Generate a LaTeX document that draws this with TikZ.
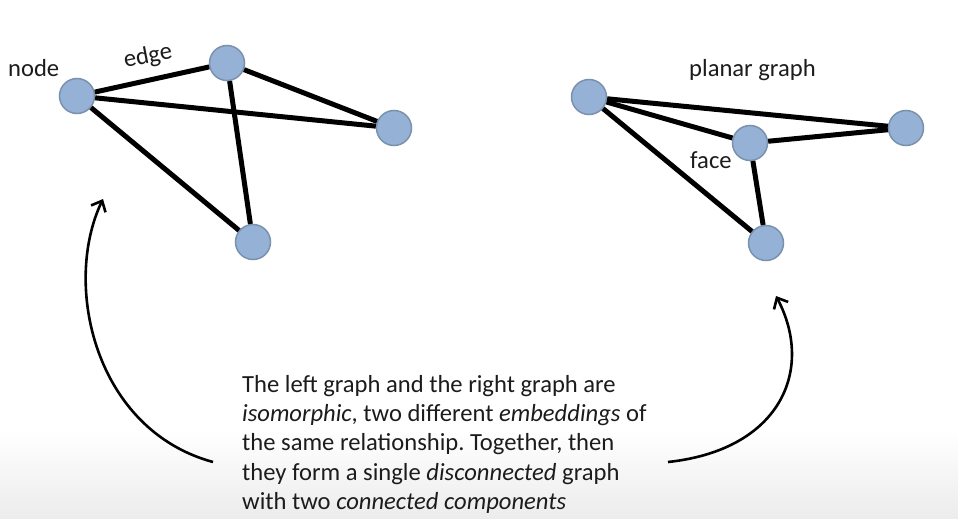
\documentclass[tikz,border=0pt]{standalone}
\usepackage{fontspec}
\setmainfont{Carlito}
\usetikzlibrary{arrows.meta}
\definecolor{nodefill}{HTML}{95B2D6}
\definecolor{nodeedge}{HTML}{7A91AD}
\definecolor{txt}{HTML}{1C1C1C}
\begin{document}
\frenchspacing
\begin{tikzpicture}[x=1pt,y=-1pt,
  vert/.style={circle,fill=nodefill,draw=nodeedge,line width=1.5pt,minimum size=35pt,inner sep=0pt},
  gedge/.style={line width=5pt,black},
  lbl/.style={font=\fontsize{24.6}{29}\selectfont,text=txt,inner sep=0pt},
  arr/.style={line width=2.6pt,-{Straight Barb[length=9pt,width=16pt,line width=2.6pt]}}]
\useasboundingbox (0,0) rectangle (958,519);
\fill[white] (0,0) rectangle (958,519);
\shade[top color=white,bottom color=gray!15] (0,430) rectangle (958,519);
% left graph
\node[vert] (a) at (77,96) {};
\node[vert] (b) at (227,63) {};
\node[vert] (c) at (394,128) {};
\node[vert] (d) at (253,242) {};
\draw[gedge] (a) -- (b);
\draw[gedge] (a) -- (c);
\draw[gedge] (a) -- (d);
\draw[gedge] (b) -- (c);
\draw[gedge] (b) -- (d);
\node[lbl,anchor=base west] (lnode) at (8,77) {node};
\node[lbl,rotate=11] (ledge) at (148,57) {edge};
% right graph
\node[vert] (e) at (589,97) {};
\node[vert] (f) at (750,143) {};
\node[vert] (g) at (906,128) {};
\node[vert] (h) at (766,243) {};
\draw[gedge] (e) -- (g);
\draw[gedge] (e) -- (f);
\draw[gedge] (e) -- (h);
\draw[gedge] (f) -- (g);
\draw[gedge] (f) -- (h);
\node[lbl,anchor=base west] (lplanar) at (689,77) {planar graph};
\node[lbl,anchor=base west] (lface) at (690,168) {face};
% text
\node[lbl,anchor=base west] (t1) at (242,392) {The left graph and the right graph are};
\node[lbl,anchor=base west] (t2) at (242,421) {\textit{isomorphic}, two different \textit{embeddings} of};
\node[lbl,anchor=base west] (t3) at (242,450.5) {the same relationship. Together, then};
\node[lbl,anchor=base west] (t4) at (242,480) {they form a single \textit{disconnected} graph};
\node[lbl,anchor=base west] (t5) at (242,509) {with two \textit{connected components}};
% arrows
\coordinate (la0) at (213,462);
\coordinate (la1) at (103,199);
\coordinate (ra0) at (668,462);
\coordinate (ra1) at (776,296);
\draw[arr] (la0) .. controls (95,430) and (62,285) .. (la1);
\draw[arr] (ra0) .. controls (780,450) and (815,370) .. (ra1);
\end{tikzpicture}
\end{document}
